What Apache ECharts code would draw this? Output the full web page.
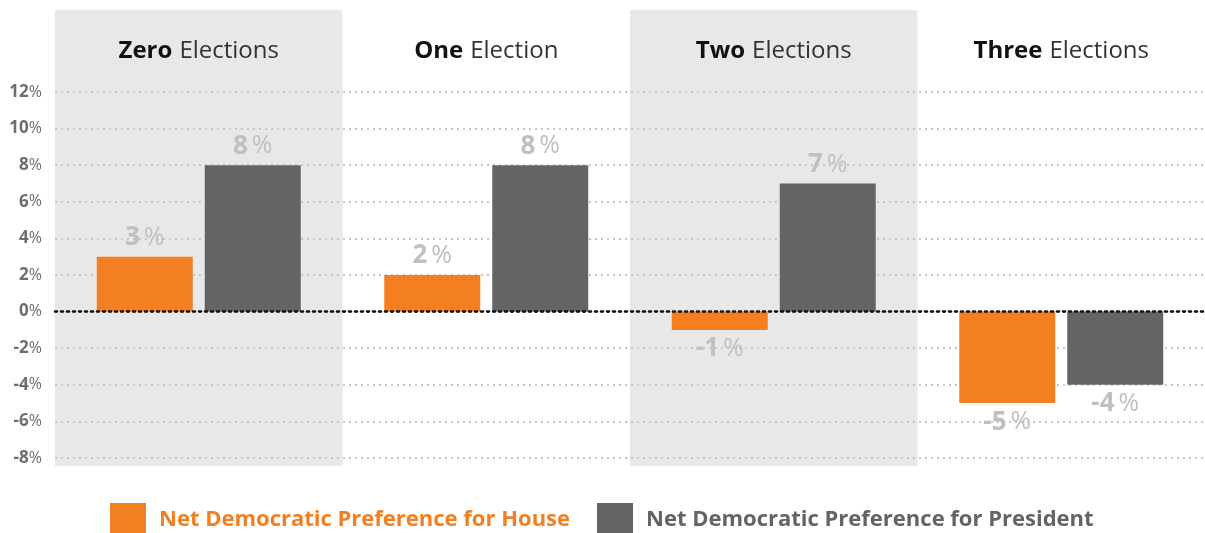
<!DOCTYPE html>
<html>
<head>
<meta charset="utf-8">
<script src="https://cdn.jsdelivr.net/npm/echarts@6/dist/echarts.min.js"></script>
<style>
    html, body { margin: 0; padding: 0; background: #fff; }
    #chart { width: 1205px; height: 533px; }
</style>
</head>
<body>
<div id="chart"></div>
<script>
// 数据
var titleBold = ['Zero', 'One', 'Two', 'Three'];
var titleRest = ['Elections', 'Election', 'Elections', 'Elections'];
var shaded = [true, false, true, false];
var houseValues = [3, 2, -1, -5];
var presidentValues = [8, 8, 7, -4];
var seriesNames = ['Net Democratic Preference for House', 'Net Democratic Preference for President'];

var ORANGE = '#f47f20';
var GREY = '#636466';
var LABEL = '#bfc0c2';
var FONT = '"Open Sans", sans-serif';

var valueLabel = {
    show: true,
    distance: 6,
    formatter: function (p) {
        return '{n|' + p.value + '}{p|%}';
    },
    rich: {
        n: { fontFamily: FONT, fontSize: 26, fontWeight: 'bold', color: LABEL },
        p: { fontFamily: FONT, fontSize: 25, fontWeight: 'normal', color: LABEL, padding: [0, 0, 0, 4] }
    }
};

function barData(values) {
    return values.map(function (v) {
        return { value: v, label: { position: v >= 0 ? 'top' : 'bottom' } };
    });
}

var myChart = echarts.init(document.getElementById('chart'));

var option = {
    animation: false,
    grid: [
        { left: 55, right: 0, top: 92, bottom: 75 },
        { left: 55, right: 0, top: 10, bottom: 67 }
    ],
    legend: {
        top: 503,
        left: 110,
        padding: 0,
        itemWidth: 36,
        itemHeight: 33,
        itemGap: 27,
        icon: 'rect',
        selectedMode: false,
        data: [
            { name: seriesNames[0], textStyle: { color: ORANGE } },
            { name: seriesNames[1], textStyle: { color: GREY } }
        ],
        textStyle: {
            fontFamily: FONT,
            fontSize: 22,
            fontWeight: 'bold',
            padding: [4, 0, 0, 8]
        }
    },
    xAxis: [
        {
            type: 'category',
            gridIndex: 0,
            data: titleBold,
            axisTick: { show: false },
            axisLabel: { show: false },
            axisLine: {
                onZero: true,
                lineStyle: { color: '#111', type: [2, 4], width: 2.5 }
            },
            z: 5
        },
        {
            type: 'category',
            gridIndex: 1,
            data: titleBold,
            show: false
        }
    ],
    yAxis: [
        {
            type: 'value',
            gridIndex: 0,
            min: -8,
            max: 12,
            interval: 2,
            axisLine: { show: false },
            axisTick: { show: false },
            axisLabel: {
                margin: 13,
                formatter: function (v) {
                    return '{n|' + v + '}{p|%}';
                },
                rich: {
                    n: { fontFamily: FONT, fontSize: 17, fontWeight: 'bold', color: '#6d6e71' },
                    p: { fontFamily: FONT, fontSize: 16, fontWeight: 'normal', color: '#6d6e71' }
                }
            },
            splitLine: {
                lineStyle: { color: '#c6c6c8', type: [2, 4], width: 2 }
            }
        },
        {
            type: 'value',
            gridIndex: 1,
            min: 0,
            max: 1,
            show: false
        }
    ],
    series: [
        {
            name: 'shade',
            type: 'bar',
            xAxisIndex: 1,
            yAxisIndex: 1,
            barWidth: '100%',
            z: -10,
            silent: true,
            data: shaded.map(function (s) {
                return {
                    value: 1,
                    itemStyle: { color: s ? '#e8e8ea' : 'rgba(0,0,0,0)' }
                };
            }),
            label: {
                show: true,
                position: 'insideTop',
                distance: 29,
                formatter: function (p) {
                    return '{b|' + titleBold[p.dataIndex] + '}{r|' + titleRest[p.dataIndex] + '}';
                },
                rich: {
                    b: { fontFamily: FONT, fontSize: 24, fontWeight: 'bold', color: '#111' },
                    r: { fontFamily: FONT, fontSize: 24, fontWeight: 'normal', color: '#333', padding: [0, 0, 0, 7] }
                }
            }
        },
        {
            name: seriesNames[0],
            type: 'bar',
            barWidth: 96,
            barGap: '12.5%',
            data: barData(houseValues),
            itemStyle: { color: ORANGE },
            label: valueLabel
        },
        {
            name: seriesNames[1],
            type: 'bar',
            barWidth: 96,
            barGap: '12.5%',
            data: barData(presidentValues),
            itemStyle: { color: GREY },
            label: valueLabel
        }
    ]
};

myChart.setOption(option);
</script>
</body>
</html>
